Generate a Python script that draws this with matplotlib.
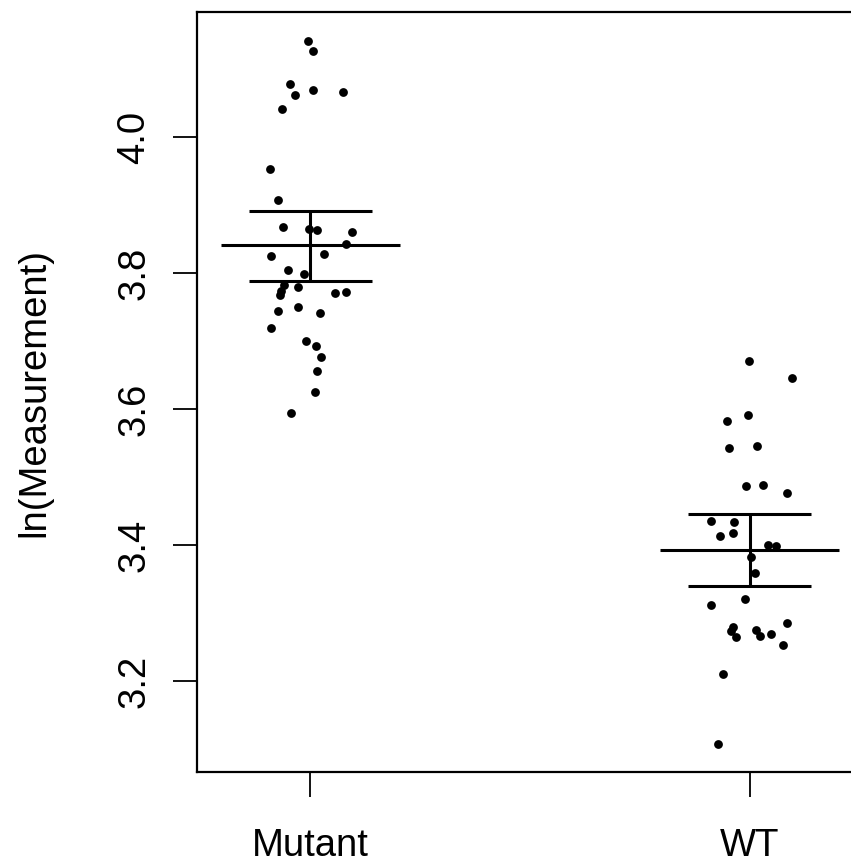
import numpy as np
import matplotlib
matplotlib.use("Agg")
import matplotlib.pyplot as plt

plt.rcParams['font.family'] = ['Liberation Sans', 'DejaVu Sans']

# groups and summary lines (mean, upper, lower)
groups = ["Mutant", "WT"]
means = [3.841, 3.393]
uppers = [3.891, 3.446]
lowers = [3.788, 3.340]

# jittered points: offset from group position and ln value
mutant_dx = [-0.005, 0.007, -0.047, -0.035, 0.005, 0.074, -0.064, -0.091, -0.073,
             -0.063, -0.003, 0.015, 0.095, 0.081, -0.090, 0.031, -0.050, -0.015,
             -0.059, -0.027, -0.066, -0.070, 0.055, 0.082, -0.073, -0.028, 0.023,
             -0.090, -0.011, 0.014, 0.024, 0.016, 0.010, -0.043]
mutant_y = [4.1416, 4.1265, 4.0775, 4.0618, 4.0696, 4.0657, 4.0416, 3.9534, 3.9074,
            3.8672, 3.8643, 3.8628, 3.8603, 3.8422, 3.8246, 3.8279, 3.8044, 3.7981,
            3.7824, 3.7799, 3.7740, 3.7681, 3.7710, 3.7721, 3.7437, 3.7500, 3.7416,
            3.7196, 3.7000, 3.6931, 3.6769, 3.6554, 3.6246, 3.5946]

wt_dx = [-0.001, 0.097, -0.052, -0.004, -0.046, 0.017, -0.008, 0.030, 0.085,
         -0.089, -0.035, -0.067, -0.038, 0.041, 0.059, 0.002, 0.012, -0.011,
         -0.087, 0.084, -0.037, -0.043, -0.032, 0.014, 0.024, 0.049, 0.075,
         -0.061, -0.073]
wt_y = [3.6710, 3.6460, 3.5819, 3.5912, 3.5422, 3.5456, 3.4868, 3.4878, 3.4760,
        3.4353, 3.4334, 3.4137, 3.4172, 3.4004, 3.3985, 3.3824, 3.3593, 3.3210,
        3.3113, 3.2857, 3.2799, 3.2740, 3.2643, 3.2750, 3.2662, 3.2687, 3.2534,
        3.2107, 3.1069]

yticks = [3.2, 3.4, 3.6, 3.8, 4.0]

fig = plt.figure(figsize=(8.51, 8.63), dpi=100)
# axes run past the right edge of the figure, as in the original
ax = fig.add_axes([0.2315, 0.1054, 0.7826, 0.8806])

ax.scatter(1 + np.array(mutant_dx), mutant_y, s=40, color="black", linewidths=0, zorder=3)
ax.scatter(2 + np.array(wt_dx), wt_y, s=40, color="black", linewidths=0, zorder=3)

for i, (m, u, l) in enumerate(zip(means, uppers, lowers)):
    xc = i + 1
    ax.hlines(m, xc - 0.203, xc + 0.203, color="black", lw=2.2)
    ax.hlines([u, l], xc - 0.14, xc + 0.14, color="black", lw=2.2)
    ax.vlines(xc, l, u, color="black", lw=2.2)

ax.set_xlim(0.742, 2.258)
ax.set_ylim(3.0662, 4.1838)
ax.set_xticks([1, 2])
ax.set_xticklabels(groups)
ax.set_yticks(yticks)
ax.set_yticklabels(["%.1f" % v for v in yticks], rotation=90, va="center")
ax.set_ylabel("ln(Measurement)", fontsize=27.5)
ax.yaxis.set_label_coords(-0.2177, 0.5)

ax.tick_params(axis="x", length=18, width=1.3, pad=22, labelsize=27.5)
ax.tick_params(axis="y", length=17, width=1.3, pad=15, labelsize=27.5)
for s in ax.spines.values():
    s.set_linewidth(1.6)

fig.savefig("out.png", dpi=100)
